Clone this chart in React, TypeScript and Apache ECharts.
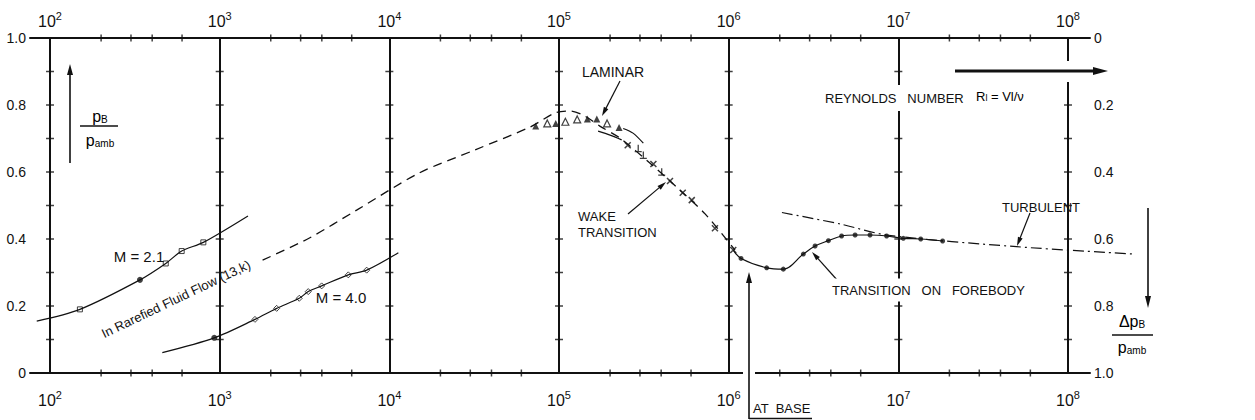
import React, { useEffect, useRef } from "react";
import * as echarts from "echarts";

// ---------- axes ----------
const DECADES = [1e2, 1e3, 1e4, 1e5, 1e6, 1e7, 1e8];
const MINOR_DECADES = [1e2, 1e3, 1e4, 1e5, 1e6, 1e7];
const MINOR_MULTIPLES = [2, 3, 4, 6];
const GRID_MARKS = [0.1, 0.2, 0.3, 0.4, 0.5, 0.6, 0.7, 0.8, 0.9];
const RE_MIN = 76.2;
const RE_MAX = 1.348e8;

// ---------- M = 2.1 ----------
const M21_LINE_RE = [83.5, 150, 339, 481, 597, 801, 1468];
const M21_LINE_PB = [0.155, 0.19, 0.278, 0.327, 0.364, 0.39, 0.469];
const M21_SQUARE_RE = [150, 481, 597, 801];
const M21_SQUARE_PB = [0.19, 0.327, 0.364, 0.39];
const M21_DOT_RE = [339];
const M21_DOT_PB = [0.278];

// ---------- M = 4.0 ----------
const M40_LINE_RE = [459, 929, 1614, 2167, 2944, 3326, 3990, 5728, 7350, 11300];
const M40_LINE_PB = [0.061, 0.105, 0.16, 0.193, 0.223, 0.243, 0.26, 0.293, 0.307, 0.359];
const M40_DIAMOND_RE = [1614, 2167, 2944, 3326, 3990, 5728, 7350];
const M40_DIAMOND_PB = [0.16, 0.193, 0.223, 0.243, 0.26, 0.293, 0.307];
const M40_DOT_RE = [929];
const M40_DOT_PB = [0.105];

// ---------- rarefied fluid flow theory (dashed) ----------
const THEORY_RE = [1790, 3380, 6450, 15000, 32000, 67400, 94600, 116000, 142000, 174000, 229000, 343000, 516000, 726000, 1090000];
const THEORY_PB = [0.337, 0.403, 0.487, 0.597, 0.666, 0.734, 0.776, 0.782, 0.767, 0.737, 0.701, 0.627, 0.546, 0.475, 0.367];

// ---------- laminar triangles ----------
const TRI_FILLED_RE = [72900, 95700, 147000, 167000, 226000];
const TRI_FILLED_PB = [0.737, 0.745, 0.758, 0.758, 0.733];
const TRI_HOLLOW_RE = [85300, 109000, 128000, 192000];
const TRI_HOLLOW_PB = [0.745, 0.75, 0.757, 0.745];
const LAM_UPPER_RE = [239000, 273000, 314000];
const LAM_UPPER_PB = [0.73, 0.716, 0.686];
const LAM_LOWER_RE = [170000, 200000, 234000];
const LAM_LOWER_PB = [0.722, 0.71, 0.696];

// ---------- wake transition ----------
const CROSS_RE = [254000, 360000, 451000, 536000, 606000, 830000, 1064000];
const CROSS_PB = [0.68, 0.624, 0.573, 0.538, 0.516, 0.432, 0.367];
const TEE_RE = [293000, 314000, 403000];
const TEE_PB = [0.671, 0.651, 0.601];

// ---------- transition at base / on forebody ----------
const BASE_LINE_RE = [1064000, 1183000, 1675000, 2100000, 2754000, 3230000, 3870000, 4630000, 5560000, 6810000, 8530000, 10700000, 13550000, 18240000];
const BASE_LINE_PB = [0.367, 0.342, 0.314, 0.31, 0.355, 0.379, 0.395, 0.409, 0.412, 0.412, 0.409, 0.402, 0.4, 0.394];
const BASE_DOT_RE = [1183000, 1675000, 2100000, 2754000, 3230000, 3870000, 4630000, 5560000, 6810000, 8530000, 10700000, 13550000, 18240000];
const BASE_DOT_PB = [0.342, 0.314, 0.31, 0.355, 0.379, 0.395, 0.409, 0.412, 0.412, 0.409, 0.402, 0.4, 0.394];

// ---------- turbulent ----------
const TURB_RE = [2060000, 4530000, 8530000, 49800000, 248000000];
const TURB_PB = [0.479, 0.445, 0.412, 0.377, 0.355];

const zip = (a: number[], b: number[]) => a.map((v, i) => [v, b[i]]);

const FONT = "Liberation Sans";
const INK = "#111";

// plot area geometry
const GRID_LEFT = 30;
const GRID_RIGHT = 165;
const WIDE_RIGHT = 115; // wider twin grid so the turbulent line can run past the frame
const CHART_W = 1255;
const mainW = CHART_W - GRID_LEFT - GRID_RIGHT;
const wideW = CHART_W - GRID_LEFT - WIDE_RIGHT;
const WIDE_MAX = Math.pow(
  10,
  Math.log10(RE_MIN) + (wideW / mainW) * (Math.log10(RE_MAX) - Math.log10(RE_MIN))
);

function arrow(x1: number, y1: number, x2: number, y2: number, lw: number, hl: number, hw: number) {
  const dx = x2 - x1, dy = y2 - y1;
  const L = Math.hypot(dx, dy);
  const ux = dx / L, uy = dy / L, px = -uy, py = ux;
  const bx = x2 - ux * hl, by = y2 - uy * hl;
  return [
    { type: "line", z: 100, shape: { x1, y1, x2: bx + ux * 1, y2: by + uy * 1 }, style: { stroke: INK, lineWidth: lw } },
    {
      type: "polygon", z: 100,
      shape: { points: [[x2, y2], [bx + (px * hw) / 2, by + (py * hw) / 2], [bx - (px * hw) / 2, by - (py * hw) / 2]] },
      style: { fill: INK },
    },
  ];
}

function txt(text: string, x: number, y: number, size: number, align = "left", extra: any = {}) {
  return {
    type: "text", z: 100, x, y,
    style: { text, fontSize: size, fontFamily: FONT, fill: INK, align, verticalAlign: "middle", ...extra },
  };
}

const decadeLabel = (v: number) => {
  const e = Math.log10(v);
  const r = Math.round(e);
  if (Math.abs(e - r) > 1e-6) return "";
  return `{b|10}{s|${r}}`;
};
const decadeRich = {
  b: { fontSize: 16, lineHeight: 22, fontFamily: FONT, color: INK },
  s: { fontSize: 11, lineHeight: 11, fontFamily: FONT, color: INK, verticalAlign: "top" },
};
const pLabel = (v: number) => (v === 0 ? "0" : v.toFixed(1));

const xAxisBase = {
  type: "log",
  logBase: 10,
  min: RE_MIN,
  max: RE_MAX,
  gridIndex: 0,
  axisLine: { show: true, lineStyle: { color: INK, width: 2 } },
  axisTick: { show: false },
  minorTick: { show: false },
};

const fracRich = {
  a: { fontSize: 16, fontFamily: FONT, color: INK },
  b: { fontSize: 10, fontFamily: FONT, color: INK, verticalAlign: "bottom" },
};

const option: any = {
  animation: false,
  backgroundColor: "#fff",
  textStyle: { fontFamily: FONT },
  grid: [
    { left: GRID_LEFT, right: GRID_RIGHT, top: 38, bottom: 47, containLabel: false, outerBoundsMode: "none" },
    { left: GRID_LEFT, right: WIDE_RIGHT, top: 38, bottom: 47, containLabel: false, outerBoundsMode: "none" },
  ],
  xAxis: [
    {
      ...xAxisBase,
      position: "bottom",
      axisLabel: { formatter: decadeLabel, rich: decadeRich, margin: 16, showMinLabel: false, showMaxLabel: false },
      splitLine: { show: true, showMinLine: false, showMaxLine: false, lineStyle: { color: INK, width: 2 } },
    },
    {
      ...xAxisBase,
      position: "top",
      axisLabel: { formatter: decadeLabel, rich: decadeRich, margin: 6, showMinLabel: false, showMaxLabel: false },
      splitLine: { show: false },
    },
    { type: "log", logBase: 10, min: RE_MIN, max: WIDE_MAX, gridIndex: 1, show: false },
  ],
  yAxis: [
    {
      type: "value", min: 0, max: 1, interval: 0.2, position: "left", gridIndex: 0,
      axisLine: { show: false }, axisTick: { show: false }, splitLine: { show: false },
      axisLabel: { formatter: pLabel, margin: 4, fontSize: 14, color: INK, fontFamily: FONT },
    },
    {
      type: "value", min: 0, max: 1, interval: 0.2, position: "right", inverse: true, gridIndex: 0,
      axisLine: { show: false }, axisTick: { show: false }, splitLine: { show: false },
      axisLabel: { formatter: pLabel, margin: 4, fontSize: 14, color: INK, fontFamily: FONT },
    },
    { type: "value", min: 0, max: 1, gridIndex: 1, show: false },
  ],
  series: [
    {
      name: "grid marks", type: "scatter", silent: true, z: 1,
      data: DECADES.flatMap((d) => GRID_MARKS.map((p) => [d, p])),
      symbol: "rect", symbolSize: [8, 1.5], itemStyle: { color: INK },
    },
    {
      name: "axis minor ticks", type: "scatter", silent: true, z: 1, clip: false,
      data: MINOR_DECADES.flatMap((d) => MINOR_MULTIPLES.flatMap((m) => [[d * m, 0], [d * m, 1]])),
      symbol: "rect", symbolSize: [1.5, 7], itemStyle: { color: INK },
    },
    {
      name: "M = 2.1", type: "line", smooth: 0.3, symbol: "none", clip: false,
      data: zip(M21_LINE_RE, M21_LINE_PB), lineStyle: { color: INK, width: 1.2 },
    },
    {
      name: "M = 2.1 squares", type: "scatter", symbol: "rect", symbolSize: 5,
      data: zip(M21_SQUARE_RE, M21_SQUARE_PB), itemStyle: { color: "#fff", borderColor: INK, borderWidth: 1 },
    },
    {
      name: "M = 2.1 dot", type: "scatter", symbol: "circle", symbolSize: 6,
      data: zip(M21_DOT_RE, M21_DOT_PB), itemStyle: { color: INK },
    },
    {
      name: "M = 4.0", type: "line", smooth: 0.3, symbol: "none",
      data: zip(M40_LINE_RE, M40_LINE_PB), lineStyle: { color: INK, width: 1.2 },
    },
    {
      name: "M = 4.0 diamonds", type: "scatter", symbol: "diamond", symbolSize: 6,
      data: zip(M40_DIAMOND_RE, M40_DIAMOND_PB), itemStyle: { color: "#fff", borderColor: INK, borderWidth: 1 },
    },
    {
      name: "M = 4.0 dot", type: "scatter", symbol: "circle", symbolSize: 6,
      data: zip(M40_DOT_RE, M40_DOT_PB), itemStyle: { color: INK },
    },
    {
      name: "Rarefied theory", type: "line", smooth: 0.3, symbol: "none",
      data: zip(THEORY_RE, THEORY_PB), lineStyle: { color: INK, width: 1.3, type: [9, 6] },
    },
    {
      name: "laminar filled", type: "scatter", symbol: "triangle", symbolSize: 7,
      data: zip(TRI_FILLED_RE, TRI_FILLED_PB), itemStyle: { color: INK },
    },
    {
      name: "laminar hollow", type: "scatter", symbol: "triangle", symbolSize: 7,
      data: zip(TRI_HOLLOW_RE, TRI_HOLLOW_PB), itemStyle: { color: "#fff", borderColor: INK, borderWidth: 1.2 },
    },
    {
      name: "laminar upper", type: "line", smooth: 0.3, symbol: "none",
      data: zip(LAM_UPPER_RE, LAM_UPPER_PB), lineStyle: { color: INK, width: 1.2 },
    },
    {
      name: "laminar lower", type: "line", smooth: 0.3, symbol: "none",
      data: zip(LAM_LOWER_RE, LAM_LOWER_PB), lineStyle: { color: INK, width: 1.2 },
    },
    {
      name: "wake crosses", type: "scatter", symbol: "path://M0,0L10,10M10,0L0,10", symbolSize: 6,
      data: zip(CROSS_RE, CROSS_PB), itemStyle: { color: "rgba(0,0,0,0)", borderColor: INK, borderWidth: 1.5 },
    },
    {
      name: "wake tees", type: "scatter", symbol: "path://M5,0L5,10M0,10L10,10", symbolSize: 7,
      data: zip(TEE_RE, TEE_PB), itemStyle: { color: "rgba(0,0,0,0)", borderColor: INK, borderWidth: 1.3 },
    },
    {
      name: "base curve", type: "line", smooth: 0.35, symbol: "none",
      data: zip(BASE_LINE_RE, BASE_LINE_PB), lineStyle: { color: INK, width: 1.2 },
    },
    {
      name: "base dots", type: "scatter", symbol: "circle", symbolSize: 5,
      data: zip(BASE_DOT_RE, BASE_DOT_PB), itemStyle: { color: INK },
    },
    {
      name: "turbulent", type: "line", smooth: 0.3, symbol: "none", clip: false,
      xAxisIndex: 2, yAxisIndex: 2,
      data: zip(TURB_RE, TURB_PB), lineStyle: { color: INK, width: 1.2, type: [11, 4, 2, 4] },
    },
  ],
  graphic: {
    elements: [
      // gaps in ruling
      { type: "rect", z: 99, shape: { x: 1062, y: 61, width: 12, height: 21 }, style: { fill: "#fff" } },
      { type: "rect", z: 99, shape: { x: 743, y: 369, width: 12, height: 8 }, style: { fill: "#fff" } },
      // arrows
      ...arrow(70, 163, 70, 64, 1.6, 11, 6),
      ...arrow(955, 71, 1108, 71, 3, 15, 8),
      ...arrow(1148, 208, 1148, 308, 1.6, 12, 6),
      ...arrow(620, 81, 602, 116, 1.2, 9, 5),
      ...arrow(628, 214, 666, 182, 1.2, 9, 5),
      ...arrow(838, 281, 812, 252, 1.2, 9, 5),
      ...arrow(1030, 213, 1017, 246, 1.2, 9, 5),
      ...arrow(749, 419, 749, 272, 1.6, 11, 6),
      { type: "line", z: 100, shape: { x1: 749, y1: 418.5, x2: 812, y2: 418.5 }, style: { stroke: INK, lineWidth: 1.5 } },
      // labels
      txt("LAMINAR", 613, 72, 14, "center"),
      txt("WAKE", 578, 216, 13),
      txt("TRANSITION", 578, 232, 13),
      txt("REYNOLDS   NUMBER", 822, 98, 13, "left", { backgroundColor: "#fff", padding: [9, 3, 4, 3] }),
      {
        type: "text", z: 100, x: 976, y: 96,
        style: {
          text: "{a|R}{b|l}{a| = Vl/ν}",
          align: "left", verticalAlign: "middle",
          rich: {
            a: { fontSize: 13, fontFamily: FONT, color: INK },
            b: { fontSize: 9, fontFamily: FONT, color: INK, verticalAlign: "bottom" },
          },
        },
      },
      txt("TRANSITION   ON   FOREBODY", 830, 290, 13, "left", { backgroundColor: "#fff", padding: [7, 2, 3, 2] }),
      txt("TURBULENT", 1041, 207, 13, "center"),
      txt("AT  BASE", 753, 408, 13),
      txt("M = 2.1", 139, 256, 15, "center"),
      txt("M = 4.0", 341, 297, 15, "center"),
      {
        type: "text", z: 100, x: 176, y: 299, rotation: (25.5 * Math.PI) / 180,
        style: { text: "In Rarefied Fluid Flow (13,k)", fontSize: 13, fontFamily: FONT, fill: INK, align: "center", verticalAlign: "middle" },
      },
      // left fraction p_B / p_amb
      {
        type: "text", z: 100, x: 100, y: 116,
        style: { text: "{a|p}{b|B}", align: "center", verticalAlign: "middle", rich: fracRich },
      },
      { type: "line", z: 100, shape: { x1: 80, y1: 126, x2: 118, y2: 126 }, style: { stroke: INK, lineWidth: 1.5 } },
      {
        type: "text", z: 100, x: 100, y: 140,
        style: { text: "{a|p}{b|amb}", align: "center", verticalAlign: "middle", rich: fracRich },
      },
      // right fraction Δp_B / p_amb
      {
        type: "text", z: 100, x: 1132, y: 321,
        style: { text: "{a|Δp}{b|B}", align: "center", verticalAlign: "middle", rich: fracRich },
      },
      { type: "line", z: 100, shape: { x1: 1112, y1: 335, x2: 1153, y2: 335 }, style: { stroke: INK, lineWidth: 1.5 } },
      {
        type: "text", z: 100, x: 1132, y: 347,
        style: { text: "{a|p}{b|amb}", align: "center", verticalAlign: "middle", rich: fracRich },
      },
    ],
  },
};

export default function App() {
  const ref = useRef<HTMLDivElement>(null);
  useEffect(() => {
    const chart = echarts.init(ref.current!, null, { renderer: "svg" });
    chart.setOption(option);
    return () => chart.dispose();
  }, []);
  return (
    <div
      ref={ref}
      style={{ position: "fixed", left: 0, top: 0, width: CHART_W, height: 420, background: "#fff" }}
    />
  );
}
